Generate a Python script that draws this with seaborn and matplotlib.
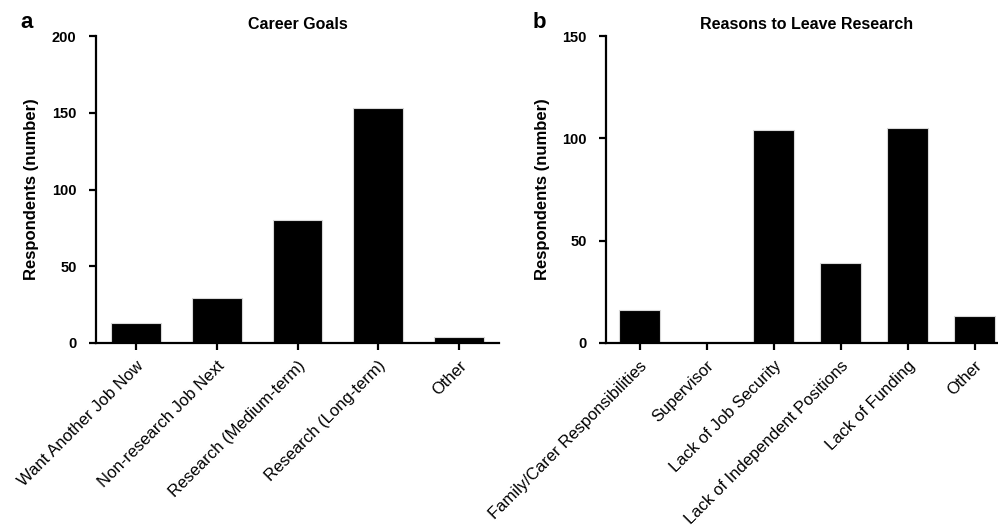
import matplotlib
matplotlib.use("Agg")
import matplotlib.pyplot as plt
import seaborn as sns
import pandas as pd

goals = ["Want Another Job Now", "Non-research Job Next", "Research (Medium-term)",
         "Research (Long-term)", "Other"]
goals_n = [13, 29, 80, 153, 4]

reasons = ["Family/Carer Responsibilities", "Supervisor", "Lack of Job Security",
           "Lack of Independent Positions", "Lack of Funding", "Other"]
reasons_n = [16, 0, 104, 39, 105, 13]

sns.set_style("ticks")
plt.rcParams['font.family'] = ['Liberation Sans', 'DejaVu Sans']
plt.rcParams['text.color'] = 'black'
plt.rcParams['axes.labelcolor'] = 'black'
plt.rcParams['xtick.color'] = 'black'
plt.rcParams['ytick.color'] = 'black'

W, H = 998, 527
fig = plt.figure(figsize=(W / 100, H / 100), dpi=100)

axA = fig.add_axes([96 / W, 184 / H, 403 / W, 307 / H])
axB = fig.add_axes([606 / W, 184 / H, 402 / W, 307 / H])

dfA = pd.DataFrame({"cat": goals, "n": goals_n})
dfB = pd.DataFrame({"cat": reasons, "n": reasons_n})

sns.barplot(data=dfA, x="cat", y="n", color="black", width=0.62, ax=axA,
            edgecolor="#d8d8d8", linewidth=0.8, saturation=1)
sns.barplot(data=dfB, x="cat", y="n", color="black", width=0.62, ax=axB,
            edgecolor="#d8d8d8", linewidth=0.8, saturation=1)

for ax, ymax, step, title, nlab in [(axA, 200, 50, "Career Goals", len(goals)),
                                    (axB, 150, 50, "Reasons to Leave Research", len(reasons))]:
    ax.set_xlim(-0.5, nlab - 0.5)
    ax.set_ylim(0, ymax)
    ax.set_yticks(range(0, ymax + 1, step))
    ax.set_xlabel("")
    ax.set_ylabel("Respondents (number)", fontsize=12, fontweight="bold", labelpad=9,
                  color="black")
    ax.set_title(title, fontsize=11.5, fontweight="bold", pad=5, color="black")
    for s in ["top", "right"]:
        ax.spines[s].set_visible(False)
    for s in ["left", "bottom"]:
        ax.spines[s].set_linewidth(1.6)
        ax.spines[s].set_color("black")
    ax.tick_params(axis="both", direction="out", length=5, width=1.6, colors="black")
    ax.tick_params(axis="y", labelsize=10.5, pad=9)
    ax.tick_params(axis="x", pad=6)
    for lbl in ax.get_yticklabels():
        lbl.set_fontweight("bold")
    ax.set_xticks(range(nlab))
    ax.set_xticklabels(ax.get_xticklabels(), rotation=45, ha="right",
                       rotation_mode="anchor", fontsize=12, color="black")

fig.text(20 / W, 1 - 22 / H, "a", fontsize=16, fontweight="bold", va="center")
fig.text(533 / W, 1 - 22 / H, "b", fontsize=16, fontweight="bold", va="center")

fig.savefig("out.png", dpi=100)
